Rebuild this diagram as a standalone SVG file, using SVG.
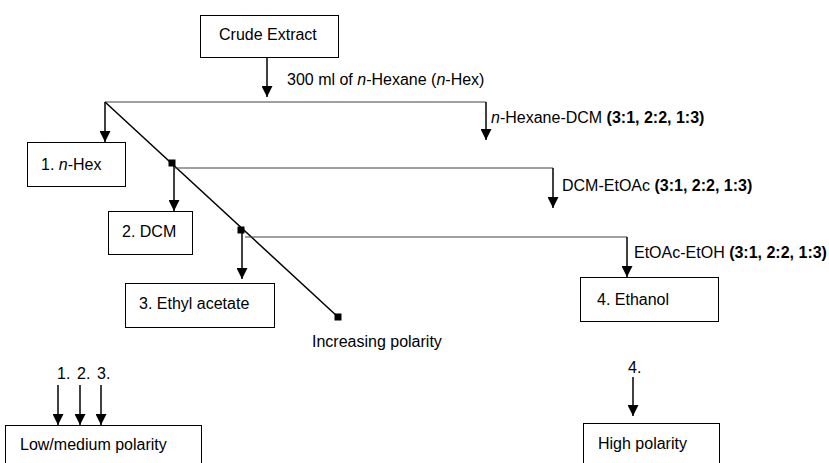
<svg xmlns="http://www.w3.org/2000/svg" width="829" height="463" viewBox="0 0 829 463">
<style>
.t{font-family:"Liberation Sans",Arial,sans-serif;font-size:16px;fill:#000}
.b{font-weight:bold}
.box{fill:#fff;stroke:#000;stroke-width:1}
.ln{stroke:#404040;stroke-width:1;fill:none}
.ar{stroke:#000;stroke-width:1.5;fill:none;marker-end:url(#ah)}
.dg{stroke:#000;stroke-width:1.5;fill:none}
.sq{fill:#000}
</style>
<defs>
<marker id="ah" viewBox="0 0 10 10" refX="10" refY="5" markerUnits="userSpaceOnUse" markerWidth="11" markerHeight="11" orient="auto"><path d="M0,0L10,5L0,10z" fill="#000"/></marker>
</defs>
<rect width="829" height="463" fill="#fff"/>

<g id="connectors">
<line class="ar" x1="267" y1="57" x2="267" y2="97"/>
<polyline class="ln" points="105,102 486,102"/>
<line class="ar" x1="105" y1="102" x2="105" y2="142"/>
<line class="ar" x1="486" y1="102" x2="486" y2="140"/>
<line class="dg" x1="105" y1="102" x2="338" y2="317"/>
<rect class="sq" x="168.5" y="159.5" width="7" height="7"/>
<rect class="sq" x="237.5" y="226.5" width="7" height="7"/>
<rect class="sq" x="334.5" y="313.5" width="7" height="7"/>
<polyline class="ln" points="175,168 553,168"/>
<line class="ar" x1="174" y1="166" x2="174" y2="211"/>
<line class="ar" x1="553" y1="168" x2="553" y2="208"/>
<polyline class="ln" points="245,237 627,237"/>
<line class="ar" x1="242" y1="233" x2="242" y2="279"/>
<line class="ar" x1="627" y1="237" x2="627" y2="277"/>
<line class="ar" x1="58" y1="385" x2="58" y2="425"/>
<line class="ar" x1="80" y1="385" x2="80" y2="425"/>
<line class="ar" x1="101" y1="385" x2="101" y2="425"/>
<line class="ar" x1="633" y1="377" x2="633" y2="416"/>
</g>

<g id="crude">
<rect class="box" x="200.5" y="15.5" width="138" height="42"/>
<text class="t" x="219" y="40">Crude Extract</text>
</g>
<g id="label-hexane">
<text class="t" x="287" y="85">300 ml of <tspan font-style="italic">n</tspan>-Hexane (<tspan font-style="italic">n</tspan>-Hex)</text>
</g>
<g id="label-hex-dcm">
<text class="t" x="491" y="123"><tspan font-style="italic">n</tspan>-Hexane-DCM <tspan class="b">(3:1, 2:2, 1:3)</tspan></text>
</g>
<g id="label-dcm-etoac">
<text class="t" x="562" y="191">DCM-EtOAc <tspan class="b">(3:1, 2:2, 1:3)</tspan></text>
</g>
<g id="label-etoac-etoh">
<text class="t" x="634" y="258">EtOAc-EtOH <tspan class="b">(3:1, 2:2, 1:3)</tspan></text>
</g>
<g id="n1">
<rect class="box" x="27.5" y="142.5" width="98" height="44"/>
<text class="t" x="41" y="170">1. <tspan font-style="italic">n</tspan>-Hex</text>
</g>
<g id="n2">
<rect class="box" x="108.5" y="211.5" width="84" height="43"/>
<text class="t" x="122" y="237">2. DCM</text>
</g>
<g id="n3">
<rect class="box" x="125.5" y="283.5" width="149" height="44"/>
<text class="t" x="139" y="309">3. Ethyl acetate</text>
</g>
<g id="n4">
<rect class="box" x="580.5" y="277.5" width="138" height="44"/>
<text class="t" x="597" y="305">4. Ethanol</text>
</g>
<g id="polarity">
<text class="t" x="312" y="347">Increasing polarity</text>
</g>
<g id="low">
<text class="t" y="379"><tspan x="57">1.</tspan><tspan x="77">2.</tspan><tspan x="97">3.</tspan></text>
<rect class="box" x="5.5" y="425.5" width="196" height="50"/>
<text class="t" x="20" y="450">Low/medium polarity</text>
</g>
<g id="high">
<text class="t" x="628" y="373">4.</text>
<rect class="box" x="583.5" y="423.5" width="136" height="50"/>
<text class="t" x="598" y="449">High polarity</text>
</g>
</svg>
